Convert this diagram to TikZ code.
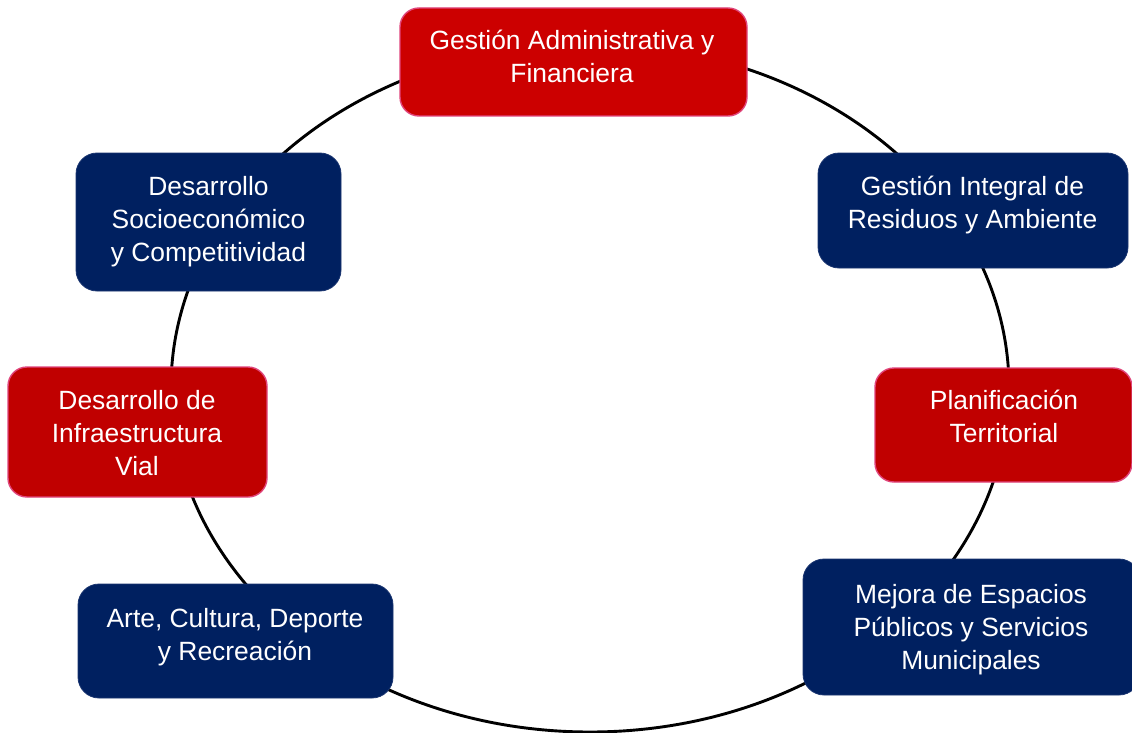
\documentclass[tikz,border=0pt]{standalone}
\usepackage{fontspec}
\setmainfont{Liberation Sans}
\definecolor{boxred}{HTML}{C00000}
\definecolor{topred}{HTML}{CC0000}
\definecolor{pinkedge}{HTML}{E0457B}
\definecolor{navy}{HTML}{002060}
\definecolor{navyedge}{HTML}{1A3570}
\begin{document}
\begin{tikzpicture}[x=1pt,y=-1pt,
  redbox/.style={rectangle, rounded corners=19pt, fill=boxred, draw=pinkedge, line width=1.4pt, inner sep=0pt},
  navybox/.style={rectangle, rounded corners=21pt, fill=navy, draw=navyedge, line width=0.8pt, inner sep=0pt},
  lbl/.style={text=white, align=center, inner sep=0pt, anchor=base, font=\fontsize{26.4pt}{33pt}\selectfont}
]
\useasboundingbox (0,0) rectangle (1132,733);
\fill[white] (0,0) rectangle (1132,733);
\draw[line width=2.9pt, black] (590,388) ellipse [x radius=419, y radius=344];

\node[redbox, fill=topred, minimum width=347, minimum height=108] (b1) at (573.5,62) {};
\node[navybox, minimum width=265, minimum height=138] (b2) at (208.5,222) {};
\node[navybox, minimum width=310, minimum height=115] (b3) at (973,210.5) {};
\node[redbox, minimum width=259, minimum height=130] (b4) at (137.5,432) {};
\node[redbox, minimum width=257, minimum height=114] (b5) at (1003.5,425) {};
\node[navybox, minimum width=315, minimum height=114] (b6) at (235.5,641) {};
\node[navybox, minimum width=337, minimum height=136] (b7) at (971.5,627) {};

\node[lbl] (t1) at (572,83) {Gestión Administrativa y\\Financiera};
\node[lbl] (t2) at (208.5,261) {Desarrollo\\Socioeconómico\\y Competitividad};
\node[lbl] (t3) at (972.5,228) {Gestión Integral de\\Residuos y Ambiente};
\node[lbl] (t4) at (137,475) {Desarrollo de\\Infraestructura\\Vial};
\node[lbl] (t5) at (1004,442) {Planificación\\Territorial};
\node[lbl] (t6) at (235,660) {Arte, Cultura, Deporte\\y Recreación};
\node[lbl] (t7) at (971,669) {Mejora de Espacios\\Públicos y Servicios\\Municipales};
\end{tikzpicture}
\end{document}
